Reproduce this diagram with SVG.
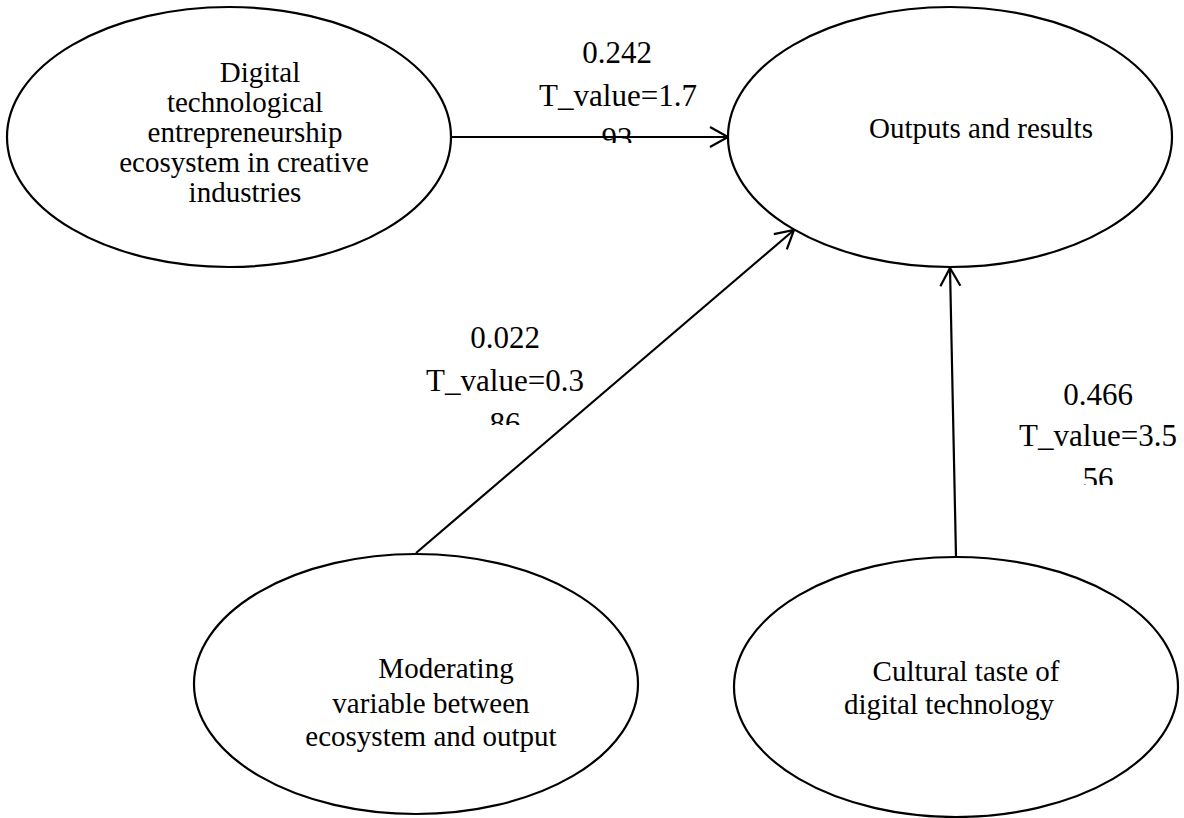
<svg xmlns="http://www.w3.org/2000/svg" width="1184" height="818" viewBox="0 0 1184 818">
<style>
.node ellipse{fill:#fff;stroke:#000;stroke-width:2.2}
.nt{font-size:29px;fill:#000;text-anchor:middle}
.et{font-size:31px;fill:#000;text-anchor:middle}
.edge{stroke:#000;stroke-width:2.2;fill:none;marker-end:url(#arr)}
</style>
<defs>
<marker id="arr" markerUnits="userSpaceOnUse" markerWidth="24" markerHeight="26" refX="21" refY="13" orient="auto" overflow="visible">
<path d="M3,3 L21,13 L3,23" fill="none" stroke="#000" stroke-width="2.2"/>
</marker>
<clipPath id="c1"><rect x="500" y="0" width="250" height="143"/></clipPath>
<clipPath id="c2"><rect x="380" y="300" width="250" height="125"/></clipPath>
<clipPath id="c3"><rect x="990" y="370" width="194" height="115"/></clipPath>
</defs>
<rect width="1184" height="818" fill="#fff"/>
<g font-family="Liberation Serif, DejaVu Serif, serif">
<g id="connectors">
<line class="edge" x1="451" y1="137" x2="728" y2="137"/>
<line class="edge" x1="416" y1="553" x2="794" y2="230"/>
<line class="edge" x1="956" y1="557" x2="950" y2="268"/>
</g>
<g id="n1" class="node">
<ellipse cx="229" cy="137" rx="222" ry="130"/>
<text class="nt" x="260" y="82">Digital</text>
<text class="nt" x="245" y="112">technological</text>
<text class="nt" x="245" y="142">entrepreneurship</text>
<text class="nt" x="244" y="172">ecosystem in creative</text>
<text class="nt" x="245" y="202">industries</text>
</g>
<g id="n2" class="node">
<ellipse cx="950" cy="137" rx="222" ry="130"/>
<text class="nt" x="981" y="138">Outputs and results</text>
</g>
<g id="n3" class="node">
<ellipse cx="416" cy="684" rx="222" ry="130"/>
<text class="nt" x="446" y="678">Moderating</text>
<text class="nt" x="431" y="713">variable between</text>
<text class="nt" x="431" y="746">ecosystem and output</text>
</g>
<g id="n4" class="node">
<ellipse cx="956" cy="687" rx="222" ry="130"/>
<text class="nt" x="966" y="681">Cultural taste of</text>
<text class="nt" x="949" y="714">digital technology</text>
</g>
<g id="labels">
<g clip-path="url(#c1)">
<text class="et" x="617" y="63">0.242</text>
<text class="et" x="618" y="106">T_value=1.7</text>
<text class="et" x="617" y="149">93</text>
</g>
<g clip-path="url(#c2)">
<text class="et" x="505" y="348">0.022</text>
<text class="et" x="505" y="391">T_value=0.3</text>
<text class="et" x="505" y="434">86</text>
</g>
<g clip-path="url(#c3)">
<text class="et" x="1098" y="405">0.466</text>
<text class="et" x="1098" y="446">T_value=3.5</text>
<text class="et" x="1098" y="489">56</text>
</g>
</g>
</g>
</svg>
